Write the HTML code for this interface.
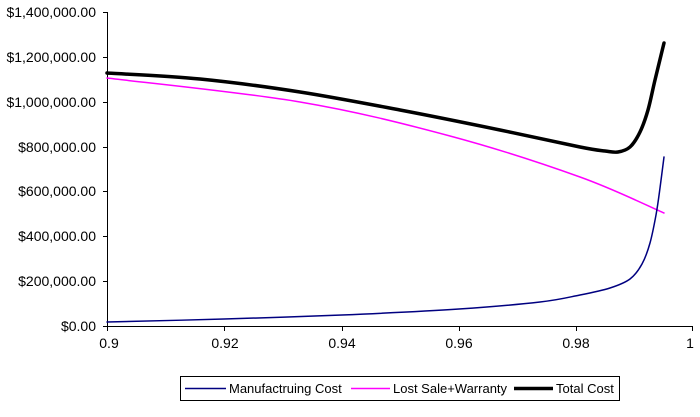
<!DOCTYPE html>
<html><head><style>
body{margin:0;background:#fff;}
svg text{font-family:"Liberation Sans",Arial,sans-serif;font-size:14px;fill:#000;}
svg text.lg{font-size:13px;}
</style></head><body>
<svg width="700" height="412" xmlns="http://www.w3.org/2000/svg">
<g stroke="#000" stroke-width="1" fill="none">
<line x1="107.5" y1="12" x2="107.5" y2="327"/>
<line x1="107" y1="326.5" x2="693" y2="326.5"/>
<line x1="103" y1="12.5" x2="107" y2="12.5"/>
<line x1="103" y1="57.5" x2="107" y2="57.5"/>
<line x1="103" y1="102.5" x2="107" y2="102.5"/>
<line x1="103" y1="147.5" x2="107" y2="147.5"/>
<line x1="103" y1="191.5" x2="107" y2="191.5"/>
<line x1="103" y1="236.5" x2="107" y2="236.5"/>
<line x1="103" y1="281.5" x2="107" y2="281.5"/>
<line x1="103" y1="326.5" x2="107" y2="326.5"/>
<line x1="107.5" y1="327" x2="107.5" y2="331"/>
<line x1="224.5" y1="327" x2="224.5" y2="331"/>
<line x1="342.5" y1="327" x2="342.5" y2="331"/>
<line x1="459.5" y1="327" x2="459.5" y2="331"/>
<line x1="576.5" y1="327" x2="576.5" y2="331"/>
<line x1="692.5" y1="327" x2="692.5" y2="331"/>
</g>
<g text-anchor="end">
<text x="96" y="17">$1,400,000.00</text>
<text x="96" y="62">$1,200,000.00</text>
<text x="96" y="107">$1,000,000.00</text>
<text x="96" y="152">$800,000.00</text>
<text x="96" y="196">$600,000.00</text>
<text x="96" y="241">$400,000.00</text>
<text x="96" y="286">$200,000.00</text>
<text x="96" y="331">$0.00</text>
</g>
<g text-anchor="middle">
<text x="109" y="348">0.9</text>
<text x="225" y="348">0.92</text>
<text x="342" y="348">0.94</text>
<text x="459" y="348">0.96</text>
<text x="576" y="348">0.98</text>
<text x="690" y="348">1</text>
</g>
<g fill="none" stroke-linejoin="round" stroke-linecap="round">
<path stroke="#ff00ff" stroke-width="1.5" d="M107,78 C139.2,82 242.8,92.3 300,102 C357.2,111.7 403.3,123.5 450,136 C496.7,148.5 544.3,164.2 580,177 C615.7,189.8 650,207 664,213"/>
<path stroke="#000080" stroke-width="1.5" d="M107,322 C126.5,321.5 184.8,320.2 224,319 C263.2,317.8 302.8,316.7 342,315 C381.2,313.3 426,311.2 459,309 C492,306.8 519.8,304.3 540,302 C560.2,299.7 568.3,297.3 580,295 C591.7,292.7 601.7,290.7 610,288 C618.3,285.3 624.7,283 630,279 C635.3,275 638.7,270 642,264 C645.3,258 647.7,251.2 650,243 C652.3,234.8 654.3,224.2 656,215 C657.7,205.8 658.7,197.7 660,188 C661.3,178.3 663.3,162.2 664,157"/>
<path stroke="#000" stroke-width="3.5" d="M107,73 C122.5,74 167.8,75.8 200,79 C232.2,82.2 266.7,86.8 300,92 C333.3,97.2 366.7,103.7 400,110 C433.3,116.3 470,123.8 500,130 C530,136.2 562.5,143.5 580,147 C597.5,150.5 598.7,150.2 605,151 C611.3,151.8 613.8,152.7 618,152 C622.2,151.3 626.3,150.3 630,147 C633.7,143.7 637,138.2 640,132 C643,125.8 645.5,118.7 648,110 C650.5,101.3 652.3,91.2 655,80 C657.7,68.8 662.5,49.2 664,43"/>
</g>
<rect x="180.5" y="376.5" width="439" height="24" fill="#fff" stroke="#000"/>
<line x1="185" y1="388.5" x2="226" y2="388.5" stroke="#000080" stroke-width="1.5"/>
<text class="lg" x="229" y="393">Manufactruing Cost</text>
<line x1="351" y1="388.5" x2="390" y2="388.5" stroke="#ff00ff" stroke-width="1.5"/>
<text class="lg" x="393" y="393">Lost Sale+Warranty</text>
<line x1="514" y1="388.5" x2="553" y2="388.5" stroke="#000" stroke-width="3.5"/>
<text class="lg" x="556" y="393">Total Cost</text>
</svg>
</body></html>
